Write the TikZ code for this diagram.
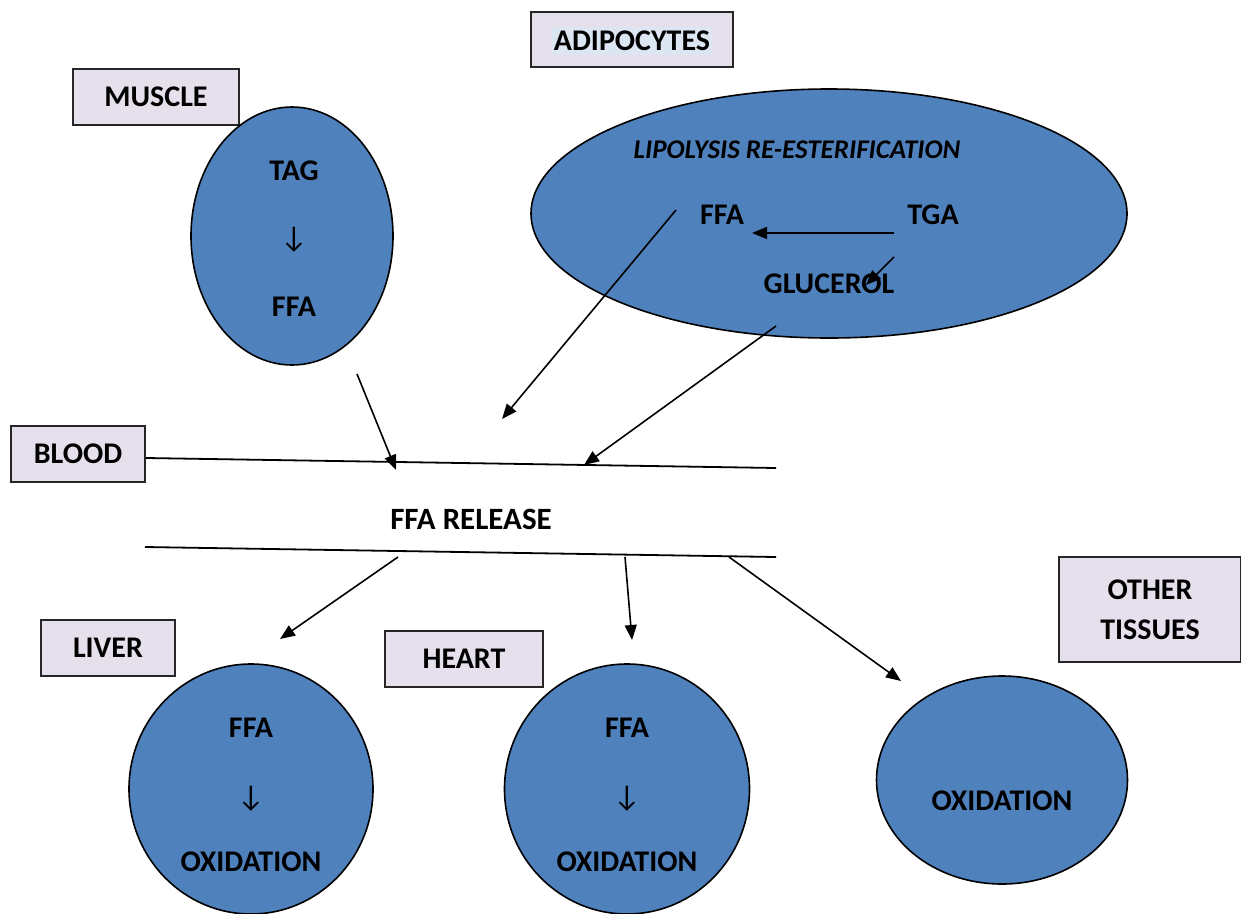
\documentclass[tikz,border=0pt]{standalone}
\usepackage{fontspec}
\setmainfont{Carlito}
\usetikzlibrary{arrows.meta,shapes.geometric}
\definecolor{cellblue}{HTML}{4F81BD}
\definecolor{tagfill}{HTML}{E5E0EC}
\definecolor{hlfill}{HTML}{DCE6F2}
\definecolor{tagline}{HTML}{262626}
\tikzset{
  every node/.style={font=\fontsize{30}{35}\selectfont\bfseries, inner sep=0pt},
  tag/.style={draw=tagline, line width=2pt, fill=tagfill, align=center},
  cell/.style={ellipse, draw=black, line width=1.6pt, fill=cellblue},
  flow/.style={draw=black, line width=1.6pt, -{Triangle[length=15pt,width=12pt]}},
  wall/.style={draw=black, line width=1.8pt},
  darr/.style={font=\fontsize{30}{30}\selectfont},
}
\begin{document}
\begin{tikzpicture}[x=1pt,y=-1pt]
\useasboundingbox (0,0) rectangle (1241,913);

% tissue labels
\node[tag, minimum width=202pt, minimum height=55pt] (adipo) at (632,39.5) {};
\node[fill=hlfill, inner xsep=2pt, inner ysep=4pt] (adipotxt) at (632,41) {ADIPOCYTES};
\node[tag, minimum width=166pt, minimum height=56pt] (muscle) at (156,97) {MUSCLE};
\node[tag, minimum width=134pt, minimum height=56pt] (blood) at (78,454) {BLOOD};
\node[tag, minimum width=134pt, minimum height=56pt] (liver) at (108,648) {LIVER};
\node[tag, minimum width=158pt, minimum height=56pt] (heart) at (464,659) {HEART};
\node[tag, minimum width=182pt, minimum height=105pt] (other) at (1150,609.5) {OTHER\\[5pt]TISSUES};

% cells
\node[cell, minimum width=202pt, minimum height=258pt] (mcell) at (292,236) {};
\node (mtag) at (294,171) {TAG};
\node[darr] (mdown) at (294,240) {↓};
\node (mffa) at (294,307) {FFA};

\node[cell, minimum width=596pt, minimum height=249pt] (acell) at (829,213.5) {};
\node[font=\fontsize{27}{31}\selectfont\bfseries\itshape] (lipo) at (797,150) {LIPOLYSIS RE-ESTERIFICATION};
\node (affa) at (722,215) {FFA};
\node (atga) at (933,215) {TGA};
\node (aglu) at (829,284) {GLUCEROL};

\node[cell, minimum width=244pt, minimum height=250pt] (lcell) at (251,789) {};
\node (lffa) at (251,728) {FFA};
\node[darr] (ldown) at (251,799) {↓};
\node (lox) at (251,862) {OXIDATION};

\node[cell, minimum width=245pt, minimum height=250pt] (hcell) at (627,789) {};
\node (hffa) at (627,728) {FFA};
\node[darr] (hdown) at (627,799) {↓};
\node (hox) at (627,862) {OXIDATION};

\node[cell, minimum width=251pt, minimum height=208pt] (ocell) at (1002,780) {};
\node (oox) at (1002,801) {OXIDATION};

% reactions inside the adipocyte
\coordinate (tgaout) at (894,233);
\coordinate (ffain) at (752,233);
\coordinate (gluout) at (894,257);
\coordinate (gluin) at (866,285);
\draw[flow] (tgaout) -- (ffain);
\draw[flow] (gluout) -- (gluin);

% blood vessel walls
\coordinate (wallA) at (776,468);
\coordinate (wallB0) at (145,547);
\coordinate (wallB) at (776,557);
\draw[wall] (blood.east |- 0,458) -- (wallA);
\draw[wall] (wallB0) -- (wallB);
\node[font=\fontsize{31}{35}\selectfont\bfseries] (release) at (471,519) {FFA RELEASE};

% release into the blood
\coordinate (m0) at (357,374);
\coordinate (m1) at (396,470);
\coordinate (f0) at (676,210);
\coordinate (f1) at (502,419);
\coordinate (g0) at (776,326);
\coordinate (g1) at (584,465);
\draw[flow] (m0) -- (m1);
\draw[flow] (f0) -- (f1);
\draw[flow] (g0) -- (g1);

% uptake by the tissues
\coordinate (u1) at (398,557);
\coordinate (v1) at (280,639);
\coordinate (u2) at (625,557);
\coordinate (v2) at (632,640);
\coordinate (u3) at (729,557);
\coordinate (v3) at (901,681);
\draw[flow] (u1) -- (v1);
\draw[flow] (u2) -- (v2);
\draw[flow] (u3) -- (v3);
\end{tikzpicture}
\end{document}
